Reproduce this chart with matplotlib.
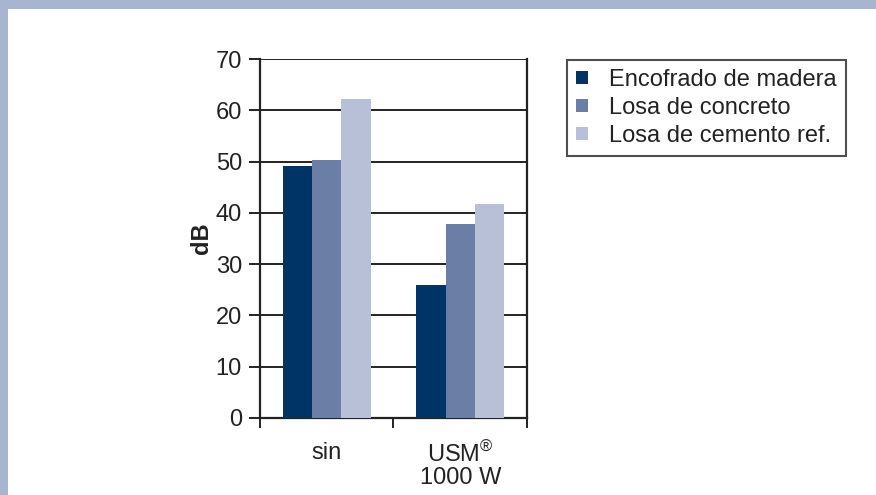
import matplotlib
matplotlib.use("Agg")
import matplotlib.pyplot as plt
from matplotlib.patches import Rectangle

plt.rcParams['font.family'] = ['Liberation Sans', 'DejaVu Sans']
plt.rcParams['mathtext.fontset'] = 'custom'
plt.rcParams['mathtext.rm'] = 'Liberation Sans'

# niveles de ruido por caso
categorias = ['sin', 'USM$^{\\circledR}$\n1000 W']
series = ['Encofrado de madera', 'Losa de concreto', 'Losa de cemento ref.']
madera = [49.1, 26.0]
concreto = [50.4, 37.9]
cemento = [62.2, 41.8]
yticks = [0, 10, 20, 30, 40, 50, 60, 70]

colores = ['#003366', '#6b7fa6', '#b8c0d8']
borde = '#a8b5d0'
fs = 17

fig = plt.figure(figsize=(8.76, 4.95), dpi=100)
fig.patch.set_facecolor(borde)
fig.patches.append(Rectangle((8 / 876, 0), 1, 1 - 9 / 495, transform=fig.transFigure,
                             facecolor='white', edgecolor='none', zorder=-10))

ax = fig.add_axes([260 / 876, 1 - 418 / 495, 267 / 876, 359 / 495])
ax.set_facecolor('white')

ancho = 0.22
centros = [0.5, 1.5]
for k, (nombre, valores) in enumerate(zip(series, [madera, concreto, cemento])):
    xs = [c + (k - 1) * ancho for c in centros]
    ax.bar(xs, valores, width=ancho, color=colores[k], label=nombre, zorder=3)

ax.set_xlim(0, 2)
ax.set_ylim(0, 70)
ax.set_yticks(yticks)
ax.yaxis.grid(True, color='#222222', linewidth=1.4, zorder=1)
ax.tick_params(axis='y', length=8, width=1.4, direction='out', labelsize=fs, pad=5, color='#222222',
               labelcolor='#222222')

ax.set_xticks([0, 1, 2])
ax.set_xticklabels([])
ax.tick_params(axis='x', which='major', length=7, width=1.4, direction='out', color='#222222')
ax.set_xticks(centros, minor=True)
ax.set_xticklabels(categorias, minor=True, fontsize=fs, linespacing=0.95, color='#222222')
ax.tick_params(axis='x', which='minor', length=0, pad=17)

ax.spines['top'].set_visible(False)
for s in ['left', 'right', 'bottom']:
    ax.spines[s].set_linewidth(1.6)
    ax.spines[s].set_color('#222222')

ax.set_ylabel('dB', fontsize=fs, fontweight='bold', labelpad=2, color='#222222')

leg = ax.legend(loc='upper left', bbox_to_anchor=(567 / 876, 1 - 60 / 495),
                bbox_transform=fig.transFigure, borderaxespad=0, fontsize=fs,
                frameon=True, fancybox=False, handlelength=0.5, handleheight=0.5,
                handletextpad=0.9, labelspacing=0.25, borderpad=0.38, labelcolor='#222222')
leg.get_frame().set_edgecolor('#222222')
leg.get_frame().set_linewidth(1.5)

fig.savefig('out.png', dpi=100, facecolor=fig.get_facecolor())
